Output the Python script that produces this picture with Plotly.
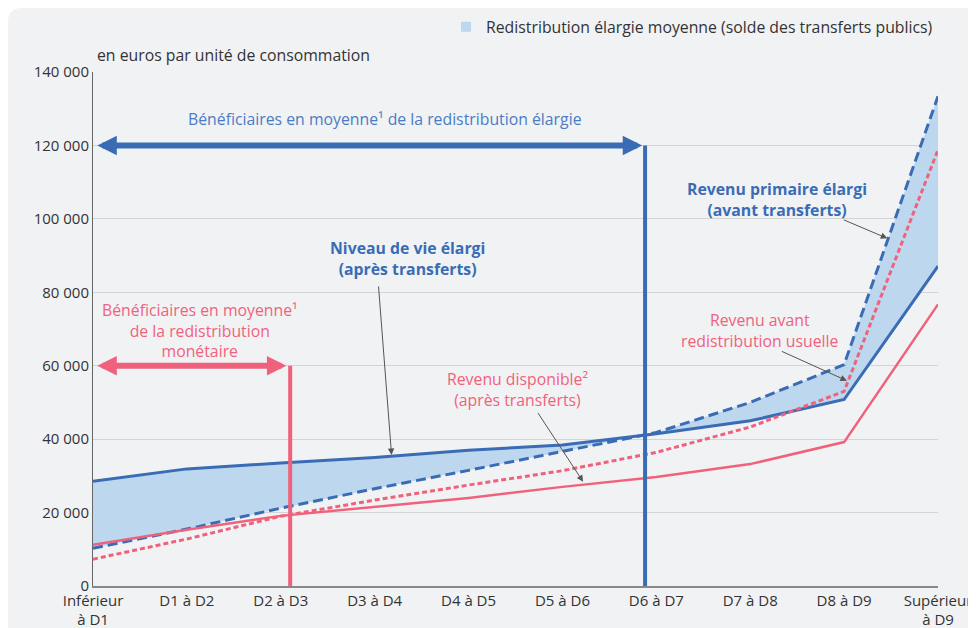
import plotly.graph_objects as go

categories = ["Inférieur<br>à D1", "D1 à D2", "D2 à D3", "D3 à D4", "D4 à D5",
              "D5 à D6", "D6 à D7", "D7 à D8", "D8 à D9", "Supérieur<br>à D9"]
niveau_vie_elargi = [28500, 31900, 33500, 35000, 37000, 38400, 41500, 45000, 50800, 87100]
revenu_primaire_elargi = [10300, 15500, 21200, 26500, 31500, 36700, 41800, 50000, 60300, 133400]
revenu_disponible = [11200, 15300, 19100, 21600, 24000, 27000, 29700, 33200, 39200, 76700]
revenu_avant_redis = [7300, 12800, 19000, 23400, 27500, 31400, 36400, 43300, 53000, 118800]
y_ticks = [0, 20000, 40000, 60000, 80000, 100000, 120000, 140000]

BLUE = "#3a6cb5"
PINK = "#f0627c"
FILL = "#bdd7ee"
xs = list(range(len(categories)))

# page offset of the figure (body margin) and plot area in page pixels
OFF = 8
FW, FH = 976 - OFF, 628 - OFF
L, R, T, B = 93, 938, 72, 586
W, H = R - L, B - T

fig = go.Figure()
fig.add_trace(go.Scatter(x=xs, y=revenu_primaire_elargi, mode="lines",
                         line=dict(width=0, color=FILL), showlegend=False, hoverinfo="skip"))
fig.add_trace(go.Scatter(x=xs, y=niveau_vie_elargi, mode="lines", fill="tonexty",
                         fillcolor=FILL, line=dict(width=0, color=FILL),
                         showlegend=False, hoverinfo="skip"))
fig.add_trace(go.Scatter(x=[None], y=[None], mode="markers",
                         marker=dict(symbol="square", size=10, color=FILL),
                         name="Redistribution élargie moyenne (solde des transferts publics)"))
fig.add_trace(go.Scatter(x=xs, y=revenu_primaire_elargi, mode="lines",
                         line=dict(color=BLUE, width=3, dash="10px,5px"), showlegend=False))
fig.add_trace(go.Scatter(x=xs, y=niveau_vie_elargi, mode="lines",
                         line=dict(color=BLUE, width=3), showlegend=False))
fig.add_trace(go.Scatter(x=xs, y=revenu_avant_redis, mode="lines",
                         line=dict(color=PINK, width=3, dash="5px,3px"), showlegend=False))
fig.add_trace(go.Scatter(x=xs, y=revenu_disponible, mode="lines",
                         line=dict(color=PINK, width=2.5), showlegend=False))

# background panel with rounded top-left corner (paper coordinates)
rx, ry = 14 / W, 14 / H
x0, y0, x1, y1 = (OFF - L) / W, -0.2, 1.1, (B - OFF) / H
path = (f"M {x0},{y0} L {x0},{y1-ry} Q {x0},{y1} {x0+rx},{y1} "
        f"L {x1},{y1} L {x1},{y0} Z")
fig.add_shape(type="path", path=path, xref="paper", yref="paper",
              fillcolor="#f1f2f4", line=dict(width=0), layer="below")

fig.add_shape(type="line", x0=2.10, x1=2.10, y0=0, y1=60000, xref="x", yref="y",
              line=dict(color=PINK, width=4), layer="above")
fig.add_shape(type="line", x0=5.88, x1=5.88, y0=0, y1=120000, xref="x", yref="y",
              line=dict(color=BLUE, width=4), layer="above")

fig.add_annotation(x=5.85, y=120000, ax=0.03, ay=120000, xref="x", yref="y",
                   axref="x", ayref="y", text="", showarrow=True, arrowhead=2,
                   startarrowhead=2, arrowside="end+start", arrowwidth=6,
                   arrowsize=0.65, startarrowsize=0.65, arrowcolor=BLUE)
fig.add_annotation(x=2.06, y=60000, ax=0.03, ay=60000, xref="x", yref="y",
                   axref="x", ayref="y", text="", showarrow=True, arrowhead=2,
                   startarrowhead=2, arrowside="end+start", arrowwidth=6,
                   arrowsize=0.65, startarrowsize=0.65, arrowcolor=PINK)

FONT = "Open Sans"
FS = 15.8
fig.add_annotation(x=3.11, y=127200, xref="x", yref="y", showarrow=False,
                   text="Bénéficiaires en moyenne¹ de la redistribution élargie",
                   font=dict(color="#4a7cc4", size=FS, family=FONT))
fig.add_annotation(x=1.14, y=69600, xref="x", yref="y", showarrow=False,
                   text="Bénéficiaires en moyenne¹<br>de la redistribution<br>monétaire",
                   font=dict(color=PINK, size=FS, family=FONT))
fig.add_annotation(x=3.35, y=89200, xref="x", yref="y", showarrow=False,
                   text="<b>Niveau de vie élargi</b><br><b>(après transferts)</b>",
                   font=dict(color=BLUE, size=FS, family=FONT))
fig.add_annotation(x=4.52, y=53500, xref="x", yref="y", showarrow=False,
                   text="Revenu disponible²<br>(après transferts)",
                   font=dict(color=PINK, size=FS, family=FONT))
fig.add_annotation(x=7.10, y=69600, xref="x", yref="y", showarrow=False,
                   text="Revenu avant<br>redistribution usuelle",
                   font=dict(color=PINK, size=FS, family=FONT))
fig.add_annotation(x=7.28, y=105300, xref="x", yref="y", showarrow=False,
                   text="<b>Revenu primaire élargi</b><br><b>(avant transferts)</b>",
                   font=dict(color=BLUE, size=FS, family=FONT))

pointers = [
    ((3.04, 82000), (3.18, 35700)),
    ((4.73, 47500), (5.22, 28400)),
    ((7.32, 64100), (8.03, 55900)),
    ((7.98, 99900), (8.46, 94700)),
]
for (tx, ty), (hx, hy) in pointers:
    fig.add_annotation(x=hx, y=hy, ax=tx, ay=ty, xref="x", yref="y", axref="x",
                       ayref="y", text="", showarrow=True, arrowhead=2,
                       arrowsize=1.3, arrowwidth=1, arrowcolor="#555555")

fig.add_annotation(x=(95 - L) / W, y=(B - 55) / H, xref="paper", yref="paper",
                   showarrow=False, text="en euros par unité de consommation",
                   xanchor="left", yanchor="middle",
                   font=dict(color="#333333", size=FS, family=FONT))

fig.update_layout(
    width=FW, height=FH,
    margin=dict(l=L - OFF, r=976 - R, t=T - OFF, b=628 - B, autoexpand=False),
    paper_bgcolor="white", plot_bgcolor="rgba(0,0,0,0)",
    font=dict(family=FONT, size=15, color="#333333"),
    separators=", ",
    showlegend=True,
    legend=dict(orientation="h", x=1.0, xanchor="right", y=(B - 27) / H, yanchor="middle",
                bgcolor="rgba(0,0,0,0)", font=dict(size=FS, color="#333333"),
                itemwidth=30),
    xaxis=dict(range=[0, 9], tickvals=xs, ticktext=categories, showgrid=False,
               showline=True, linecolor="#888888", linewidth=1.5, ticks="",
               zeroline=False, automargin=False,
               tickfont=dict(size=15, color="#333333")),
    yaxis=dict(range=[0, 140000], tickvals=y_ticks, tickformat=",d",
               showgrid=True, gridcolor="#d4d4d6", gridwidth=1, showline=True,
               linecolor="#666666", linewidth=1, ticks="", zeroline=False,
               automargin=False, tickfont=dict(size=15, color="#333333")),
)

fig.write_html("out.html")
